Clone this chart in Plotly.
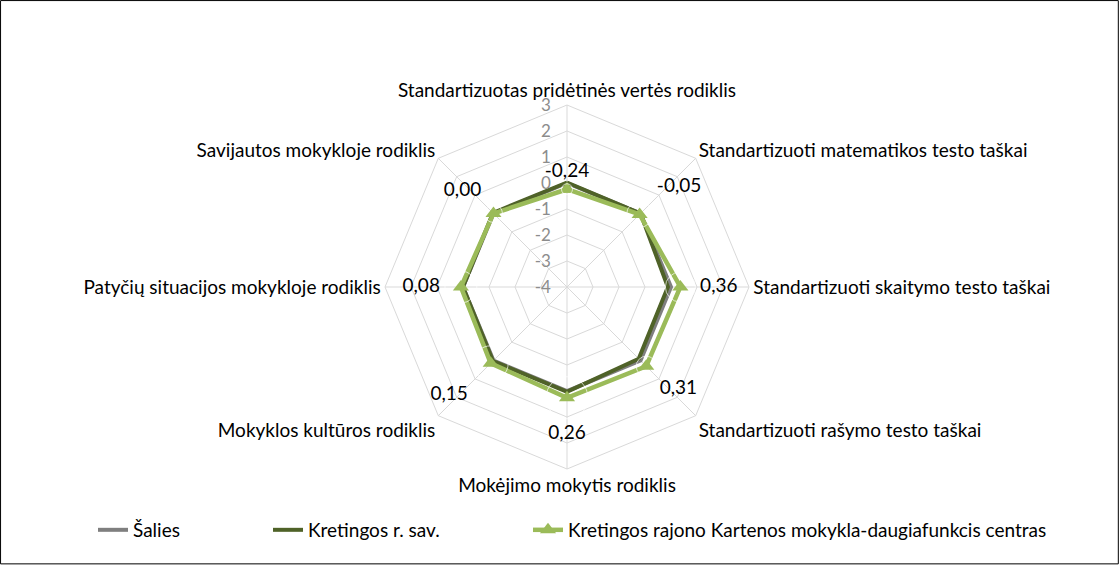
import plotly.graph_objects as go

categories = [
    "Standartizuotas pridėtinės vertės rodiklis",
    "Standartizuoti matematikos testo taškai",
    "Standartizuoti skaitymo testo taškai",
    "Standartizuoti rašymo testo taškai",
    "Mokėjimo mokytis rodiklis",
    "Mokyklos kultūros rodiklis",
    "Patyčių situacijos mokykloje rodiklis",
    "Savijautos mokykloje rodiklis",
]
salies = [0, 0, 0, 0, 0, 0, 0, 0]
kretingos = [0.02, 0.0, -0.12, -0.1, 0.03, 0.03, 0.0, 0.03]
mokykla = [-0.24, -0.05, 0.36, 0.31, 0.26, 0.15, 0.08, 0.00]
label_pos = ["top center", "top right", "middle right", "bottom right",
             "bottom center", "bottom left", "middle left", "top left"]
# invisible marker sizes, only used to push each data label away from its point
label_gap = [11, 26, 30, 20, 42, 35, 32, 18]
radial_ticks = [-4, -3, -2, -1, 0, 1, 2, 3]

# plotly hides markers/text on polygon grids when the radial range starts below 0,
# so the radial axis is shifted to start at 0 and the tick labels keep the real values
r_min = radial_ticks[0]

def shift(v):
    return [x - r_min for x in v]

def close(v):
    return v + v[:1]

def fmt(v):
    return f"{v:.2f}".replace(".", ",")

font_family = "Lato, Open Sans, Arial"
theta = close(categories)

fig = go.Figure()
fig.add_trace(go.Scatterpolar(
    r=shift(close(salies)), theta=theta, mode="lines", name="Šalies",
    line=dict(color="#7f7f7f", width=4), legend="legend", hoverinfo="skip"))
fig.add_trace(go.Scatterpolar(
    r=shift(close(kretingos)), theta=theta, mode="lines", name="Kretingos r. sav.",
    line=dict(color="#4f6228", width=4), legend="legend2", hoverinfo="skip"))
fig.add_trace(go.Scatterpolar(
    r=shift(close(mokykla)), theta=theta, mode="lines+markers",
    name="Kretingos rajono Kartenos mokykla-daugiafunkcis centras",
    line=dict(color="#9bbb59", width=4.5),
    marker=dict(symbol="triangle-up", size=14, color="#9bbb59"),
    cliponaxis=False, legend="legend3", hoverinfo="skip"))
# data labels of the school series
fig.add_trace(go.Scatterpolar(
    r=shift(mokykla), theta=categories, mode="markers+text", showlegend=False,
    marker=dict(size=label_gap, color="rgba(0,0,0,0)"),
    text=[fmt(v) for v in mokykla], textposition=label_pos,
    textfont=dict(size=19, color="#000000", family=font_family),
    cliponaxis=False, hoverinfo="skip"))

legend_style = dict(orientation="h", y=0.062, yanchor="middle", xanchor="left",
                    font=dict(size=19, color="#000000"), itemwidth=30,
                    bgcolor="rgba(0,0,0,0)")

fig.update_layout(
    width=1120, height=565,
    margin=dict(l=0, r=0, t=0, b=0),
    paper_bgcolor="white", plot_bgcolor="white",
    font=dict(family=font_family, size=19, color="#000000"),
    showlegend=True,
    polar=dict(
        domain=dict(x=[385 / 1120, 749 / 1120], y=[96 / 565, 460 / 565]),
        bgcolor="white",
        gridshape="linear",
        angularaxis=dict(direction="clockwise", rotation=90,
                         gridcolor="#d9d9d9", linecolor="#d9d9d9", linewidth=1,
                         showline=True, ticks="",
                         tickfont=dict(size=19, color="#000000")),
        radialaxis=dict(range=[0, radial_ticks[-1] - r_min],
                        tickvals=shift(radial_ticks),
                        ticktext=[f"{t}\u00a0\u00a0\u00a0" for t in radial_ticks],
                        angle=90, tickangle=90, side="counterclockwise",
                        showline=False, ticks="", gridcolor="#d9d9d9",
                        tickfont=dict(size=17, color="#8c8c8c")),
    ),
    legend=dict(legend_style, x=93 / 1120),
    legend2=dict(legend_style, x=268 / 1120),
    legend3=dict(legend_style, x=528 / 1120),
    shapes=[dict(type="rect", xref="paper", yref="paper", x0=0.0005, x1=0.9985,
                 y0=0.002, y1=0.999, line=dict(color="#000000", width=1))],
)

fig.write_html("out.html", config={"displayModeBar": False},
               post_script="document.body.style.margin = '0';")
